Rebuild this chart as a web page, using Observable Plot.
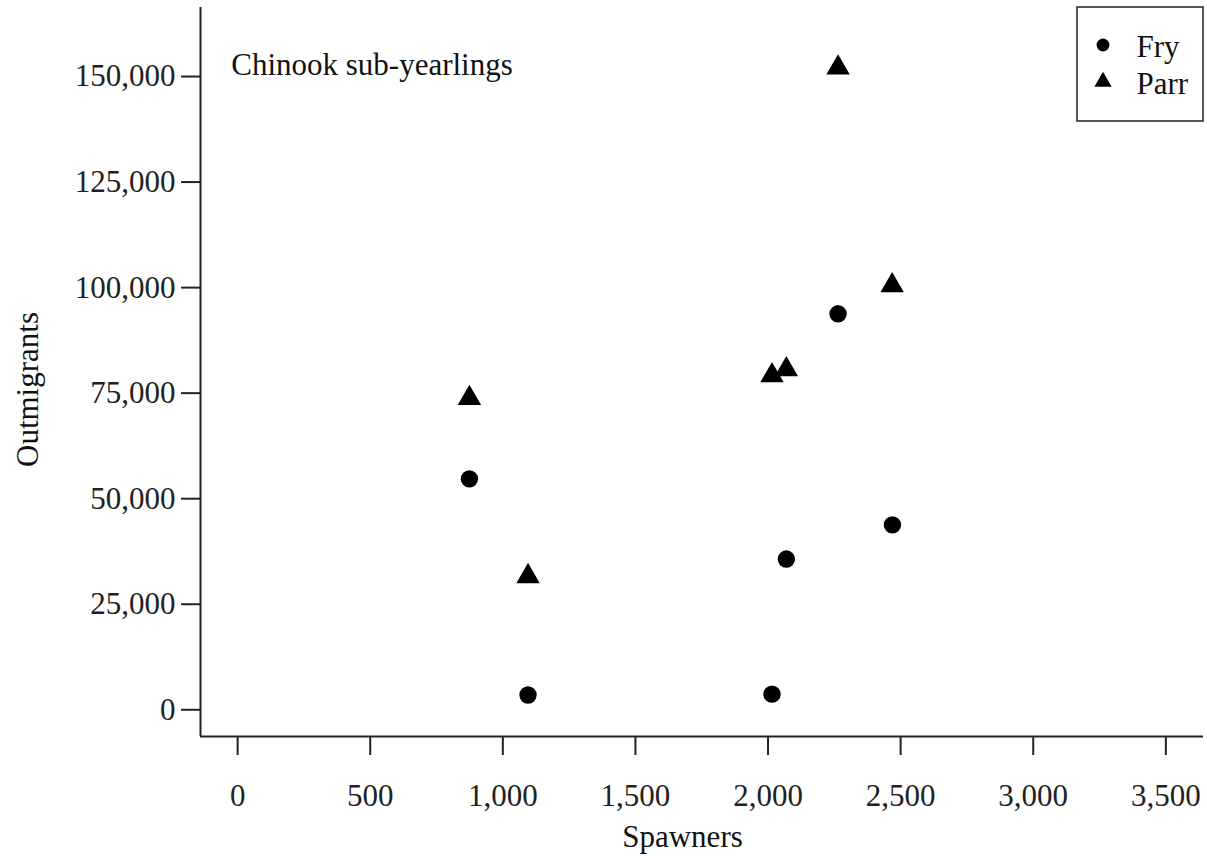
<!DOCTYPE html>
<html>
<head>
<meta charset="utf-8">
<script src="https://cdn.jsdelivr.net/npm/d3@7"></script>
<script src="https://cdn.jsdelivr.net/npm/@observablehq/plot@0.6"></script>
<style>
  html, body { margin: 0; padding: 0; background: #fff; }
  #chart { position: relative; width: 1207px; height: 856px; }
</style>
</head>
<body>
<div id="chart"></div>
<script>
// Data
const fryX = [874, 1095, 2015, 2069, 2469, 2264];
const fryY = [54700, 3500, 3700, 35700, 43800, 93800];
const parrX = [874, 1095, 2015, 2069, 2468, 2264];
const parrY = [73800, 31600, 79200, 80600, 100500, 152100];
const xTicks = [0, 500, 1000, 1500, 2000, 2500, 3000, 3500];
const yTicks = [0, 25000, 50000, 75000, 100000, 125000, 150000];
const xDomain = [-140, 3642];
const yDomain = [-6330, 166350];
const seriesNames = ["Fry", "Parr"];
const seriesSymbols = ["circle", "triangle"];
const captionText = ["Chinook sub-yearlings"];
const xLabel = ["Spawners"];
const yLabel = ["Outmigrants"];

const data = [
  ...fryX.map((x, i) => ({x, y: fryY[i], s: "Fry"})),
  ...parrX.map((x, i) => ({x, y: parrY[i], s: "Parr"}))
];

const font = "'Liberation Serif', 'Times New Roman', serif";
const ink = "#222";

const plot = Plot.plot({
  width: 1207,
  height: 856,
  marginLeft: 200,
  marginRight: 4,
  marginTop: 7,
  marginBottom: 120,
  style: {fontFamily: font, fontSize: "31px", color: ink, background: "#fff"},
  x: {domain: xDomain},
  y: {domain: yDomain},
  symbol: {domain: seriesNames, range: seriesSymbols},
  marks: [
    Plot.axisX({ticks: xTicks, tickFormat: d3.format(","), tickSize: 19, tickPadding: 28,
      strokeWidth: 2, label: null}),
    Plot.axisY({ticks: yTicks, tickFormat: d3.format(","), tickSize: 19, tickPadding: 6,
      strokeWidth: 2, label: null}),
    Plot.ruleX([xDomain[0]], {stroke: ink, strokeWidth: 2}),
    Plot.ruleY([yDomain[0]], {stroke: ink, strokeWidth: 2}),
    Plot.dot(data, {x: "x", y: "y", symbol: "s", r: 8.7, fill: "#000", stroke: "none"}),
    Plot.text(captionText, {text: d => d, frameAnchor: "top-left", dx: 30.7, dy: 57.4,
      textAnchor: "start", lineAnchor: "middle", fill: "#111"}),
    Plot.text(xLabel, {text: d => d, frameAnchor: "bottom", dx: -19.5, dy: 100.8,
      textAnchor: "middle", lineAnchor: "middle", fill: "#111"}),
    Plot.text(yLabel, {text: d => d, frameAnchor: "left", dx: -172.2, dy: 17.5, rotate: -90,
      textAnchor: "middle", lineAnchor: "middle", fill: "#111"})
  ]
});

document.getElementById("chart").appendChild(plot);

// Legend box inside the SVG
const svg = d3.select(plot);
const lg = svg.append("g").attr("font-family", font).attr("font-size", 31).attr("text-anchor", "start");
lg.append("rect").attr("x", 1077).attr("y", 7).attr("width", 126).attr("height", 114)
  .attr("fill", "#fff").attr("stroke", ink).attr("stroke-width", 1.5);
const symMap = {circle: d3.symbolCircle, triangle: d3.symbolTriangle};
const legendY = [45, 81.7];
const legendBase = [56.7, 94];
seriesNames.forEach((name, i) => {
  lg.append("path")
    .attr("transform", `translate(1103,${legendY[i]})`)
    .attr("d", d3.symbol(symMap[seriesSymbols[i]], Math.PI * 6.4 * 6.4)())
    .attr("fill", "#000");
  lg.append("text").attr("x", 1136.5).attr("y", legendBase[i])
    .attr("text-anchor", "start").attr("fill", "#111").text(name);
});
</script>
</body>
</html>
